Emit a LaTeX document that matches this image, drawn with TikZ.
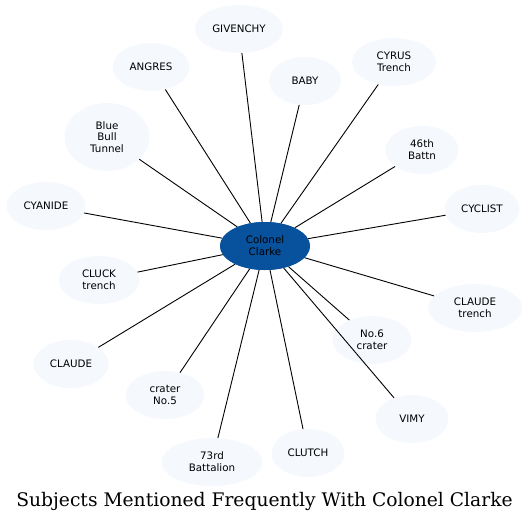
\documentclass[tikz,border=0pt]{standalone}
\usepackage{fontspec}
\setmainfont{DejaVu Sans}
\newfontfamily\titlefont{DejaVu Serif}
\usetikzlibrary{shapes.geometric}
\definecolor{HubBlue}{HTML}{08519C}
\definecolor{PaleBlue}{HTML}{F5F8FD}

\begin{document}
\begin{tikzpicture}[x=1pt, y=-1pt,
    subj/.style={ellipse, fill=PaleBlue, inner sep=0pt, align=center,
      minimum width=74pt, minimum height=48pt,
      font=\fontsize{10.3}{11.8}\selectfont},
    hub/.style={subj, fill=HubBlue, minimum width=90pt},
    link/.style={line width=0.9pt, black}]
  \useasboundingbox (0,0) rectangle (529,523);
  % Centre
  \node[hub] (clarke) at (265,246) {Colonel\\Clarke};
  % Subjects, clockwise from the top
  \node[subj, minimum width=88pt] (givenchy) at (239,29) {GIVENCHY};
  \node[subj, minimum width=84pt] (cyrus) at (394,62) {CYRUS\\Trench};
  \node[subj, minimum width=72pt] (baby) at (305,81) {BABY};
  \node[subj, minimum width=73pt] (battn) at (422,150) {46th\\Battn};
  \node[subj, minimum width=75pt] (cyclist) at (482,209) {CYCLIST};
  \node[subj, minimum width=94pt] (claudetr) at (475,308) {CLAUDE\\trench};
  \node[subj, minimum width=79pt] (crater6) at (372,340) {No.6\\crater};
  \node[subj, minimum width=73pt] (vimy) at (412,419) {VIMY};
  \node[subj, minimum width=73pt] (clutch) at (308,453) {CLUTCH};
  \node[subj, minimum width=101pt] (battalion) at (212,462) {73rd\\Battalion};
  \node[subj, minimum width=79pt] (crater5) at (165,395) {crater\\No.5};
  \node[subj, minimum width=75pt] (claude) at (71,364) {CLAUDE};
  \node[subj, minimum width=81pt] (cluck) at (99,280) {CLUCK\\trench};
  \node[subj, minimum width=79pt] (cyanide) at (46,206) {CYANIDE};
  \node[subj, minimum width=85pt, minimum height=68pt] (bluebull) at (107,137) {Blue\\Bull\\Tunnel};
  \node[subj, minimum width=77pt] (angres) at (151,67) {ANGRES};
  % Links (drawn over the nodes)
  \foreach \s in {givenchy, cyrus, baby, battn, cyclist, claudetr, crater6, vimy,
      clutch, battalion, crater5, claude, cluck, cyanide, bluebull, angres}
    \draw[link] (clarke) -- (\s);
  \node[hub] at (clarke) {Colonel\\Clarke};
  % Title
  \node[font=\titlefont\fontsize{18.7}{21}\selectfont] (title) at (264.5,501) {Subjects Mentioned Frequently With Colonel Clarke};
\end{tikzpicture}
\end{document}
